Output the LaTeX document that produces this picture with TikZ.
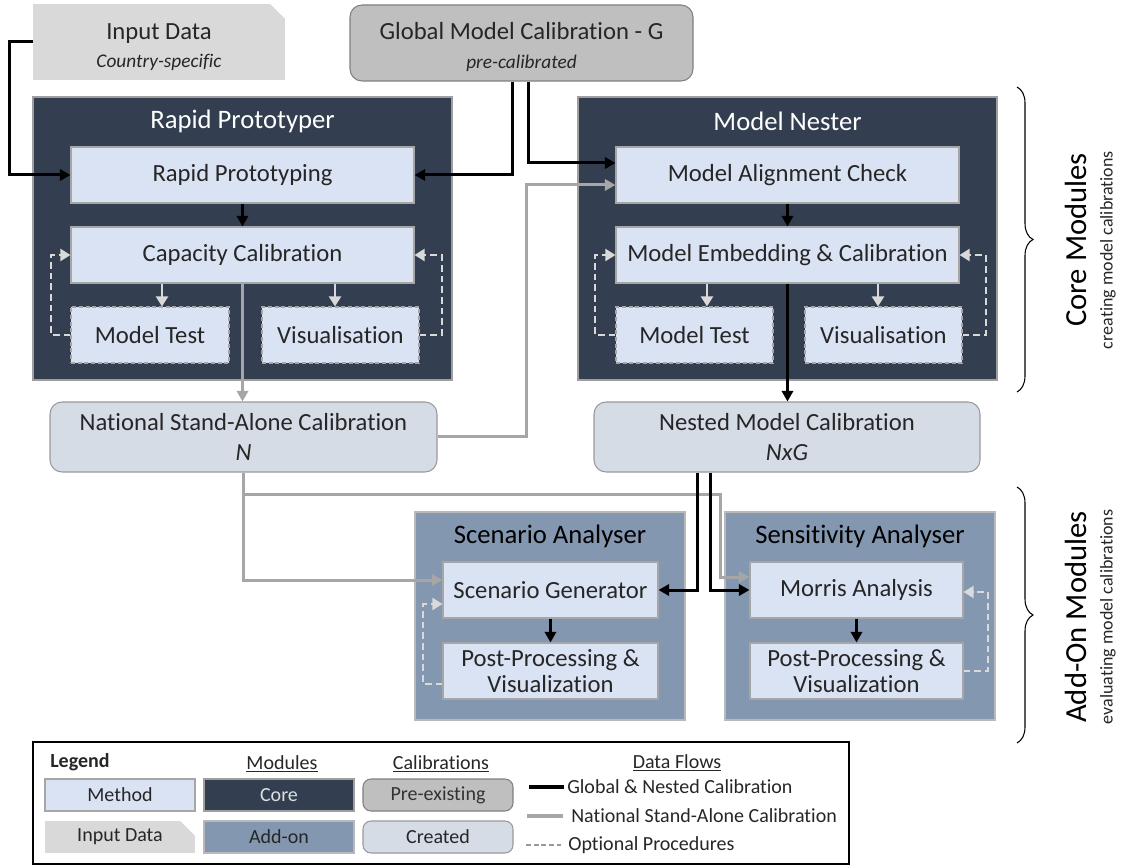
\documentclass[tikz,border=0pt]{standalone}
\usepackage{fontspec}
\setmainfont{Carlito}[Ligatures={NoCommon}]
\usetikzlibrary{arrows.meta,calc,decorations.pathreplacing}

\definecolor{coreblue}{HTML}{333F50}
\definecolor{addblue}{HTML}{8497B0}
\definecolor{methodfill}{HTML}{DAE3F3}
\definecolor{calfill}{HTML}{D6DCE5}
\definecolor{prefill}{HTML}{BFBFBF}
\definecolor{inputfill}{HTML}{D9D9D9}
\definecolor{edgegray}{HTML}{A6A6A6}
\definecolor{nsgray}{HTML}{A6A6A6}
\definecolor{optgray}{HTML}{D9D9D9}
\definecolor{txt}{HTML}{262626}

\begin{document}
\begin{tikzpicture}[x=0.75pt,y=-0.75pt,
  % a box given by its left, top, right and bottom edges (in pixel units)
  span/.style n args={4}{minimum width={(#3-#1)*0.75pt}, minimum height={(#4-#2)*0.75pt},
    at={({(#1+#3)/2},{(#2+#4)/2})}},
  mainfont/.style={font=\fontsize{18.5}{22}\selectfont},
  legfont/.style={font=\fontsize{15}{18}\selectfont},
  titlefont/.style={font=\fontsize{20}{24}\selectfont},
  box/.style={inner sep=0pt, text=txt, align=center, mainfont},
  coremod/.style={inner sep=0pt, fill=coreblue, draw=gray!75, line width=1pt},
  addmod/.style={inner sep=0pt, fill=addblue, draw=gray!55, line width=1pt},
  method/.style={box, fill=methodfill, draw=edgegray, line width=0.8pt},
  optmethod/.style={method, dash pattern=on 3pt off 2pt},
  calib/.style={box, fill=calfill, draw=gray!80, line width=0.8pt, rounded corners=9pt},
  precal/.style={box, fill=prefill, draw=gray, line width=0.8pt, rounded corners=9pt},
  inputbox/.style={box, fill=inputfill,
    path picture={\fill[white] ([xshift=-11pt]path picture bounding box.north east)
      -- ([xshift=1pt,yshift=1pt]path picture bounding box.north east)
      -- ([yshift=-11pt]path picture bounding box.north east) -- cycle;}},
  modtitle/.style={titlefont, inner sep=0pt},
  blk/.style={line width=2.25pt, black, -{Triangle[length=8pt,width=8.5pt]}},
  gry/.style={line width=2.25pt, nsgray, -{Triangle[length=8pt,width=8.5pt]}},
  lgt/.style={line width=1.5pt, optgray, -{Triangle[length=7.5pt,width=9pt]}},
  opt/.style={line width=1.5pt, optgray, dash pattern=on 5pt off 3pt, -{Triangle[length=7.5pt,width=9pt]}},
  bracestyle/.style={decorate, decoration={brace, amplitude=12pt}, line width=0.8pt},
]
\useasboundingbox (0,0) rectangle (1129,866);

% ---------- sources ----------
\node[inputbox, span={33}{4}{285}{80}] (inp)
  {\rule{0pt}{19pt}Input Data\\[-1pt]{\fontsize{14.5}{17}\selectfont\itshape Country-specific}};
\node[precal, span={350}{5}{693}{81}] (glob)
  {\rule{0pt}{19pt}Global Model Calibration - G\\[0pt]{\fontsize{14.5}{17}\selectfont\itshape pre-calibrated}};

% ---------- core modules ----------
\node[coremod, span={33}{97}{452}{380}] (rpmod) {};
\node[modtitle, text=white] (rpt) at ($(rpmod.north)+(0,25)$) {Rapid Prototyper};
\node[method, span={71}{147}{414}{203}] (rp) {Rapid Prototyping};
\node[method, span={71}{227}{414}{283}] (cc) {Capacity Calibration};
\node[optmethod, span={71}{307}{229}{363}] (mt) {Model Test};
\node[optmethod, span={262}{307}{419}{363}] (vis) {Visualisation};

\node[coremod, span={578}{97}{997}{380}] (mnmod) {};
\node[modtitle, text=white] (mnt) at ($(mnmod.north)+(0,25)$) {Model Nester};
\node[method, span={616}{147}{959}{203}] (mac) {Model Alignment Check};
\node[method, span={616}{227}{959}{283}] (mec) {Model Embedding \& Calibration};
\node[optmethod, span={616}{307}{773}{363}] (mt2) {Model Test};
\node[optmethod, span={805}{307}{962}{363}] (vis2) {Visualisation};

% ---------- calibrations ----------
\node[calib, span={50}{402}{437}{472}] (nat)
  {National Stand-Alone Calibration\\[1pt]\itshape N};
\node[calib, span={594}{402}{980}{472}] (nest)
  {Nested Model Calibration\\[1pt]\itshape NxG};

% ---------- add-on modules ----------
\node[addmod, span={415}{512}{685}{720}] (samod) {};
\node[modtitle, text=black] (sat) at ($(samod.north)+(0,25)$) {Scenario Analyser};
\node[method, span={443}{562}{658}{618}] (sg) {Scenario Generator};
\node[method, span={443}{643}{658}{699}, font=\fontsize{18.5}{20}\selectfont] (pp) {Post-Processing \&\\Visualization};

\node[addmod, span={725}{512}{995}{720}] (semod) {};
\node[modtitle, text=black] (set) at ($(semod.north)+(0,25)$) {Sensitivity Analyser};
\node[method, span={750}{562}{963}{618}] (ma) {Morris Analysis};
\node[method, span={750}{643}{963}{699}, font=\fontsize{18.5}{20}\selectfont] (pp2) {Post-Processing \&\\Visualization};

% ---------- optional procedures (dashed loops and light arrows) ----------
\draw[lgt] ($(cc.south -| mt.north)+(12,0)$) -- ($(mt.north)+(12,0)$);
\draw[lgt] ($(cc.south -| vis.north)+(-5.5,0)$) -- ($(vis.north)+(-5.5,0)$);
\draw[opt] (mt.west) -- ++(-19,0) |- (cc.west);
\draw[opt] (vis.east) -- ++(22,0) |- (cc.east);

\draw[lgt] ($(mec.south -| mt2.north)+(12.5,0)$) -- ($(mt2.north)+(12.5,0)$);
\draw[lgt] ($(mec.south -| vis2.north)+(-5.5,0)$) -- ($(vis2.north)+(-5.5,0)$);
\draw[opt] (mt2.west) -- ++(-20,0) |- (mec.west);
\draw[opt] (vis2.east) -- ++(23,0) |- (mec.east);

\draw[opt] ([yshift=-9.75pt]pp.west) -- ++(-19,0) |- ([yshift=-10.5pt]sg.west);
\draw[opt] (pp2.east) -- ++(24,0) |- ([yshift=-1.5pt]ma.east);

% ---------- national stand-alone flows ----------
\draw[gry] (cc.south) -- (cc.south |- nat.north);
\draw[gry] (nat.east) -- ++(89,0) |- ([yshift=-7.5pt]mac.west);
\draw[gry] (nat.south) |- ([yshift=7.5pt]sg.west);
\draw[gry] ([yshift=-16.5pt]nat.south) -- ++(477,0) |- ([yshift=9.75pt]ma.west);

% ---------- global and nested flows ----------
\draw[blk] (inp.west) -- ++(-23,0) |- (rp.west);
\draw[blk] ([xshift=-6.4pt]glob.south) |- (rp.east);
\draw[blk] ([xshift=5.6pt]glob.south) |- ([yshift=9pt]mac.west);
\draw[blk] (rp.south) -- (cc.north);
\draw[blk] (mac.south) -- (mec.north);
\draw[blk] (mec.south) -- (mec.south |- nest.north);
\draw[blk] ([xshift=-67.5pt]nest.south) |- (sg.east);
\draw[blk] ([xshift=-57.75pt]nest.south) |- (ma.west);
\draw[blk] (sg.south) -- (pp.north);
\draw[blk] (ma.south) -- (pp2.north);

% ---------- braces ----------
\draw[bracestyle] (1017,87) -- (1017,392) coordinate (cbr);
\node[rotate=90, font=\fontsize{23}{26}\selectfont, inner sep=0pt] (coret) at (1076,240) {Core Modules};
\node[rotate=90, font=\fontsize{13.5}{16}\selectfont, text=txt, inner sep=0pt] (cores) at (1108,250) {creating model calibrations};
\draw[bracestyle] (1017,487) -- (1017,743) coordinate (abr);
\node[rotate=90, font=\fontsize{23}{26}\selectfont, inner sep=0pt] (addt) at (1076,617) {Add-On Modules};
\node[rotate=90, font=\fontsize{13.5}{16}\selectfont, text=txt, inner sep=0pt] (adds) at (1108,617) {evaluating model calibrations};

% ---------- legend ----------
\node[draw=black, line width=1pt, inner sep=0pt, span={33}{742}{849}{864}] (leg) {};
\node[legfont, anchor=west, inner sep=0pt, text=txt] (legt) at (50,762) {\bfseries Legend};
\node[method, legfont, span={45}{779}{195}{811}] (lm) {Method};
\node[inputbox, legfont, span={45}{821}{195}{853}] (li) {Input Data};
\node[legfont, inner sep=0pt, text=txt] (lmodt) at (282,764) {\underline{Modules}};
\node[coremod, legfont, text=gray!25, span={204}{779}{354}{811}] (lcore) {Core};
\node[addmod, legfont, text=txt, span={204}{821}{354}{853}] (ladd) {Add-on};
\node[legfont, inner sep=0pt, text=txt] (lcalt) at (441,764) {\underline{Calibrations}};
\node[precal, legfont, rounded corners=6pt, text=gray!40!black, span={363}{779}{513}{811}] (lpre) {Pre-existing};
\node[calib, legfont, rounded corners=6pt, span={363}{821}{513}{853}] (lcre) {Created};
\node[legfont, inner sep=0pt, text=txt] (ldft) at (677,763) {\underline{Data Flows}};
\node[legfont, anchor=west, inner sep=0pt, text=txt] (lg1) at (567,787) {Global \& Nested Calibration};
\node[legfont, anchor=west, inner sep=0pt, text=txt] (lg2) at (571,816) {National Stand-Alone Calibration};
\node[legfont, anchor=west, inner sep=0pt, text=txt] (lg3) at (568,845) {Optional Procedures};
\draw[line width=2.5pt, black] ([xshift=-2pt]lg1.west) -- ++(-35,0);
\draw[line width=2.5pt, nsgray] ([xshift=-6pt]lg2.west) -- ++(-36,0);
\draw[line width=0.9pt, gray!80, dash pattern=on 3.5pt off 2.2pt] ([xshift=-5pt]lg3.west) -- ++(-36,0);
\end{tikzpicture}
\end{document}
